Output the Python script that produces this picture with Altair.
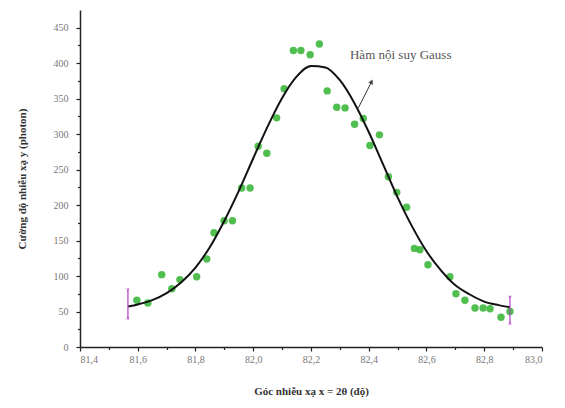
import altair as alt
import pandas as pd

# measured points
pts_x = [81.597, 81.635, 81.683, 81.718, 81.746, 81.804, 81.839, 81.864, 81.899, 81.928,
         81.960, 81.989, 82.017, 82.047, 82.081, 82.107, 82.139, 82.165, 82.197, 82.229,
         82.256, 82.289, 82.318, 82.351, 82.381, 82.404, 82.437, 82.468, 82.497, 82.531,
         82.558, 82.577, 82.605, 82.681, 82.702, 82.733, 82.768, 82.796, 82.820, 82.858, 82.889]
pts_y = [66, 62, 102, 82, 95, 99, 124, 161, 178, 178,
         224, 224, 283, 273, 323, 364, 418, 418, 412, 427,
         361, 338, 337, 314, 322, 284, 299, 240, 218, 197,
         139, 137, 116, 99, 75, 66, 55, 55, 54, 42, 50]

# Gauss fit curve
fit_x = [81.566, 81.60, 81.65, 81.70, 81.75, 81.80, 81.85, 81.90, 81.95, 82.00,
         82.05, 82.10, 82.15, 82.20, 82.25, 82.30, 82.35, 82.40, 82.45, 82.50,
         82.55, 82.60, 82.65, 82.70, 82.75, 82.80, 82.85, 82.889]
fit_y = [57, 60, 66, 76, 91, 112, 141, 178, 220, 266,
         311, 351, 381, 396, 394, 376, 344, 303, 257, 211,
         170, 135, 108, 87, 74, 64, 59, 56]

# end-point error markers
err_x = [81.566, 82.889]
err_lo = [41, 34]
err_hi = [80, 70]

# annotation
ann_text = "Hàm nội suy Gauss"
ann_x, ann_y = 82.335, 412
arrow_x = [82.364, 82.410]
arrow_y = [337, 374]

# ticks (major + minor)
x_ticks = [81.4, 81.5, 81.6, 81.7, 81.8, 81.9, 82.0, 82.1, 82.2, 82.3, 82.4,
           82.5, 82.6, 82.7, 82.8, 82.9, 83.0]
y_ticks = [0, 25, 50, 75, 100, 125, 150, 175, 200, 225, 250, 275, 300, 325,
           350, 375, 400, 425, 450]

FONT = "Liberation Serif"
xs = alt.Scale(domain=[81.4, 83.0], nice=False)
ys = alt.Scale(domain=[0, 475], nice=False)

pts = pd.DataFrame({"x": pts_x, "y": pts_y})
fit = pd.DataFrame({"x": fit_x, "y": fit_y})
err = pd.DataFrame({"x": err_x, "lo": err_lo, "hi": err_hi})
arr = pd.DataFrame({"x": [arrow_x[0]], "y": [arrow_y[0]], "x2": [arrow_x[1]], "y2": [arrow_y[1]]})
head = pd.DataFrame({"x": [arrow_x[1]], "y": [arrow_y[1]]})
ann = pd.DataFrame({"x": [ann_x], "y": [ann_y], "t": [ann_text]})

x_major = "round(datum.value * 10) % 2 == 0"
y_major = "round(datum.value) % 50 == 0"

xaxis = alt.Axis(values=x_ticks,
                 labelExpr=f"{x_major} ? replace(format(datum.value, '.1f'), '.', ',') : ''",
                 title="Góc nhiễu xạ x = 2θ (độ)", grid=False,
                 tickSize={"condition": {"test": x_major, "value": 4}, "value": 2.5},
                 labelPadding=3, labelOverlap=False,
                 titleFont=FONT, titleFontSize=11, titleFontWeight="bold", titleColor="#333",
                 titleBaseline="alphabetic", titleY=47,
                 labelFont=FONT, labelFontSize=10, labelColor="#777",
                 domainColor="#222", tickColor="#222", domainWidth=1.5, tickWidth=1.2)
yaxis = alt.Axis(values=y_ticks,
                 labelExpr=f"{y_major} ? format(datum.value, 'd') : ''",
                 title="Cường độ nhiễu xạ y (photon)", grid=False,
                 tickSize={"condition": {"test": y_major, "value": 4}, "value": 2.5},
                 labelPadding=8, labelOverlap=False,
                 titleFont=FONT, titleFontSize=11, titleFontWeight="bold", titleColor="#333",
                 titleBaseline="middle", titleX=-58,
                 labelFont=FONT, labelFontSize=10, labelColor="#777",
                 domainColor="#222", tickColor="#222", domainWidth=1.5, tickWidth=1.2)


def X(f="x:Q"):
    return alt.X(f, scale=xs, axis=xaxis)


def Y(f="y:Q"):
    return alt.Y(f, scale=ys, axis=yaxis)


base_pts = alt.Chart(pts).mark_circle(size=55, color="#3db83d", opacity=0.9).encode(x=X(), y=Y())

curve = alt.Chart(fit).mark_line(color="#111", strokeWidth=2, interpolate="monotone").encode(
    x=X(), y=Y())

errbar = alt.Chart(err).mark_rule(color="#b040c0", strokeWidth=1.2).encode(
    x=X(), y=Y("lo:Q"), y2="hi:Q")
errtop = alt.Chart(err).mark_point(shape="triangle-down", filled=True, size=14, color="#b040c0").encode(
    x=X(), y=Y("hi:Q"))
errbot = alt.Chart(err).mark_point(shape="triangle-up", filled=True, size=14, color="#b040c0").encode(
    x=X(), y=Y("lo:Q"))

arrow = alt.Chart(arr).mark_rule(color="#333", strokeWidth=1).encode(
    x=X(), y=Y(), x2="x2:Q", y2="y2:Q")
arrowhead = alt.Chart(head).mark_point(shape="triangle-up", filled=True, size=28, color="#111", angle=27).encode(
    x=X(), y=Y())

label = alt.Chart(ann).mark_text(font=FONT, fontSize=13, color="#555", align="left", baseline="middle").encode(
    x=X(), y=Y(), text="t:N")

chart = alt.layer(base_pts, curve, errbar, errtop, errbot, arrow, arrowhead, label).properties(
    width=462, height=337,
    autosize=alt.AutoSizeParams(type="none"),
    padding={"left": 72, "top": 2, "right": 15, "bottom": 52},
).configure_view(stroke=None)

chart.save("out.html", embed_options={"renderer": "svg", "actions": False})
